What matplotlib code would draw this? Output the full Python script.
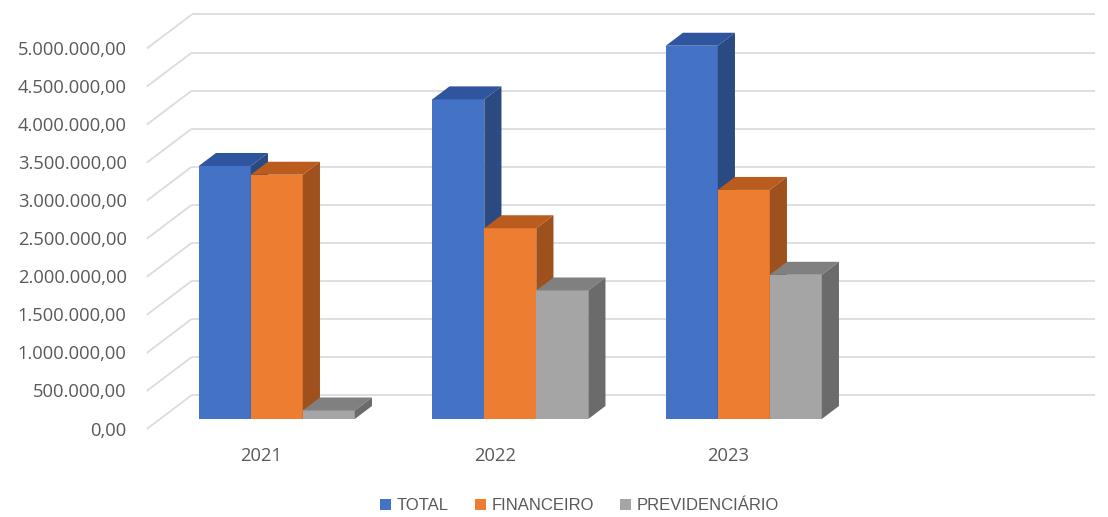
import matplotlib
matplotlib.use("Agg")
import matplotlib.pyplot as plt
from matplotlib.patches import Polygon, Patch

# ---- data ----
categories = ["2021", "2022", "2023"]
series_names = ["TOTAL", "FINANCEIRO", "PREVIDENCIÁRIO"]
total = [3325000, 4200000, 4905000]
financeiro = [3210000, 2507000, 3010000]
previdenciario = [112000, 1689000, 1895000]
y_ticks = [0, 500000, 1000000, 1500000, 2000000, 2500000, 3000000,
           3500000, 4000000, 4500000, 5000000]

series_values = [total, financeiro, previdenciario]
front_colors = ["#4472C4", "#ED7D31", "#A5A5A5"]
top_colors = ["#2F559E", "#B95C1E", "#808080"]
side_colors = ["#2B4A82", "#9E511C", "#6B6B6B"]

plt.rcParams['font.family'] = ['Liberation Sans', 'DejaVu Sans']
NUM_FONT = ['Open Sans', 'DejaVu Sans']
TXT = "#595959"

W, H = 1108, 517
fig = plt.figure(figsize=(W / 100, H / 100), dpi=100)
ax = fig.add_axes([0, 0, 1, 1])
ax.set_axis_off()

# pixel mapping (front plane): x_px = X0 + CAT_PX * x ; y_px = Y0 - PX_PER_UNIT * v
X0, CAT_PX = 146.8, 233.5
Y0, PX_PER_UNIT = 429.0, 76.1e-6
ax.set_xlim(-X0 / CAT_PX, (W - X0) / CAT_PX)
ax.set_ylim((Y0 - H) / PX_PER_UNIT, Y0 / PX_PER_UNIT)

# depth of the oblique projection in data units
DX = 45 / CAT_PX
DY = 34 / PX_PER_UNIT
XR = (1095 - 45 - X0) / CAT_PX   # right end of back wall (front-plane coords)

grid_c = "#DCDCDC"
for v in y_ticks:
    ax.plot([0, DX], [v, v + DY], color=grid_c, lw=1.3, zorder=1, solid_capstyle='butt')
    ax.plot([DX, XR + DX], [v + DY, v + DY], color=grid_c, lw=1.3, zorder=1, solid_capstyle='butt')
    s = f"{v:,.2f}".replace(",", "X").replace(".", ",").replace("X", ".")
    ax.text((126.7 - X0) / CAT_PX, v - 1.5 / PX_PER_UNIT, s, ha='right', va='center',
            fontsize=13.2, color=TXT, family=NUM_FONT)

# bars
f1, f2 = 0.294, 0.676
bw = 52 / CAT_PX
gap = (1 - 3 * bw) / 2
z = 3
for i, cat in enumerate(categories):
    for s_idx, vals in enumerate(series_values):
        v = vals[i]
        x0 = i + gap + s_idx * bw
        ax.bar(x0 + f1 * DX, v, width=bw, bottom=f1 * DY, align='edge',
               color=front_colors[s_idx], lw=0, zorder=z)
        top = [(x0 + f1 * DX, v + f1 * DY), (x0 + bw + f1 * DX, v + f1 * DY),
               (x0 + bw + f2 * DX, v + f2 * DY), (x0 + f2 * DX, v + f2 * DY)]
        side = [(x0 + bw + f1 * DX, f1 * DY), (x0 + bw + f2 * DX, f2 * DY),
                (x0 + bw + f2 * DX, v + f2 * DY), (x0 + bw + f1 * DX, v + f1 * DY)]
        ax.add_patch(Polygon(top, closed=True, facecolor=top_colors[s_idx], lw=0, zorder=z))
        ax.add_patch(Polygon(side, closed=True, facecolor=side_colors[s_idx], lw=0, zorder=z))
        z += 1
    ax.text(i + 0.5 - 2 / CAT_PX, (Y0 - 456) / PX_PER_UNIT, cat, ha='center', va='center',
            fontsize=13.2, color=TXT, family=NUM_FONT)

handles = [Patch(facecolor=c, edgecolor='none') for c in front_colors]
leg = fig.legend(handles, series_names, loc='center', bbox_to_anchor=(579.5 / W, 11 / H),
                 ncol=3, frameon=False, fontsize=12, handlelength=0.66, handleheight=0.66,
                 handletextpad=0.36, columnspacing=1.56, borderpad=0, borderaxespad=0)
for t in leg.get_texts():
    t.set_color(TXT)

fig.savefig("out.png", dpi=100, facecolor="white")
